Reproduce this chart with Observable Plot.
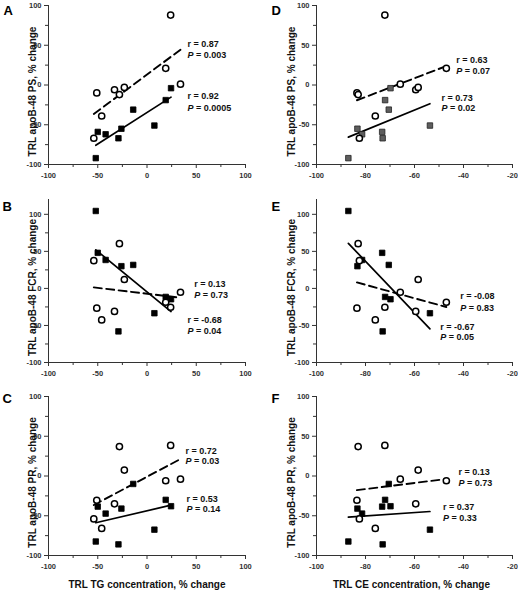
<!DOCTYPE html>
<html><head><meta charset="utf-8">
<script src="https://cdn.jsdelivr.net/npm/d3@7"></script>
<script src="https://cdn.jsdelivr.net/npm/@observablehq/plot@0.6"></script>
<style>
body{margin:0;background:#fff;}
#chart{position:relative;width:518px;height:591px;overflow:hidden;background:#fff;}
#chart svg{position:absolute;overflow:visible;}
</style></head><body><div id="chart"></div>
<script>
// ---- data (open circles = one group, filled squares = other group) ----
const tgCircle  = [24, -51, -33, -23, -28, 19, 34, -46, -54];
const ceCircle  = [-72.1, -83.5, -59.5, -58.5, -83, -47, -65.8, -76, -82.5];
const psCircle  = [88, -10, -6, -3, -12, 21, 1, -39, -67];
const fcrCircle = [-25.4, -26.7, -31, 12, 60.4, -18.7, -5.2, -42.5, 37.5];
const prCircle  = [38.5, -30.5, -35, 7.5, 37, -6, -4, -66, -54];

const tgSquare  = [-52, -50, -42, -29, -26, -14, 7.5, 19, 24.4];
const ceSquare  = [-87, -73.2, -81.4, -73, -83.3, -70.5, -53.7, -72, -69.8];
const psSquare  = [-92, -59, -62, -67, -55, -31, -51, -19, -4];
const fcrSquare = [104.5, 48, 38.4, -58, 30, 31.7, -33.5, -11.5, -14.6];
const prSquare  = [-82.4, -38.5, -47.3, -86, -41, -10, -67.5, -30, -38];

const panelLetters = [["A","D"],["B","E"],["C","F"]];
const yTitles = ["TRL apoB-48 PS, % change", "TRL apoB-48 FCR, % change", "TRL apoB-48 PR, % change"];
const xTitles = ["TRL TG concentration, % change", "TRL CE concentration, % change"];
const rOpen   = [["r = 0.87","r = 0.63"],["r = 0.13","r = -0.08"],["r = 0.72","r = 0.13"]];
const pOpen   = [["= 0.003","= 0.07"],["= 0.73","= 0.83"],["= 0.03","= 0.73"]];
const rFilled = [["r = 0.92","r = 0.73"],["r = -0.68","r = -0.67"],["r = 0.53","r = 0.37"]];
const pFilled = [["= 0.0005","= 0.02"],["= 0.04","= 0.05"],["= 0.14","= 0.33"]];

const yMajor = [-100, -50, 0, 50, 100];
const yMinor = [-75, -25, 25, 75];
const xMajorTG = [-100, -50, 0, 50, 100];
const xMinorTG = [-75, -25, 25, 75];
const xMajorCE = [-100, -80, -60, -40, -20];
const xMinorCE = [-90, -70, -50, -30];

// ---- layout ----
const FONT = "'Liberation Sans', Arial, Helvetica, sans-serif";
const cols = [
  {left: 0, width: 258, ml: 48, mr: 13, domain: [-100, 100], major: xMajorTG, minor: xMinorTG, titleDx: -16, xTitleDx: 0},
  {left: 258, width: 260, ml: 58, mr: 6, domain: [-100, -20], major: xMajorCE, minor: xMinorCE, titleDx: -25, xTitleDx: -3}
];
const rows = [
  {top: 0, height: 185, mt: 5, mb: 21, domain: [-100, 100], letterDy: 5.5},
  {top: 185, height: 195, mt: 14, mb: 18, domain: [-100, 120], letterDy: 7.5},
  {top: 380, height: 211, mt: 16, mb: 36, domain: [-100, 100], letterDy: 2}
];
// annotation anchor points (data units): [x, yR, yP] for dashed/open and solid/filled fits
const annot = [
  [{o: [41, 52, 38], f: [41, -14.5, -29.6]}, {o: [-43, 30.8, 17], f: [-49, -17, -29.6]}],
  [{o: [48, 5.4, -9.5], f: [41, -43.2, -58.1]}, {o: [-41.3, -10.4, -26], f: [-49.5, -52.3, -65.8]}],
  [{o: [39, 30.8, 18.2], f: [40, -28.7, -41.8]}, {o: [-42, 4.8, -9], f: [-48.4, -39.2, -52.6]}]
];

const yByRow = [[psCircle, psSquare], [fcrCircle, fcrSquare], [prCircle, prSquare]];
const xByCol = [[tgCircle, tgSquare], [ceCircle, ceSquare]];

const chart = document.getElementById("chart");
const axisColor = "#333";

function annotationMarks(a, rText, pText) {
  const t = {fontSize: 9, fontWeight: "bold", textAnchor: "start", lineAnchor: "middle", fill: "#111"};
  return [
    Plot.text([rText], {x: () => a[0], y: () => a[1], text: d => d, ...t}),
    Plot.text(["P"], {x: () => a[0], y: () => a[2], text: d => d, ...t, fontStyle: "italic"}),
    Plot.text([pText], {x: () => a[0], y: () => a[2], text: d => d, ...t, dx: 8.5})
  ];
}

for (let r = 0; r < 3; r++) {
  for (let c = 0; c < 2; c++) {
    const col = cols[c], row = rows[r];
    const open = xByCol[c][0].map((x, i) => ({x, y: yByRow[r][0][i]}));
    const filled = xByCol[c][1].map((x, i) => ({x, y: yByRow[r][1][i]}));
    const grayFill = (r === 0 && c === 1);
    const tickText = {fontSize: 7.5, fontWeight: "bold", color: axisColor, tickFormat: d => String(d)};
    const marks = [
      Plot.ruleX([col.domain[0]], {stroke: axisColor, strokeWidth: 1}),
      Plot.ruleY([-100], {stroke: axisColor, strokeWidth: 1}),
      Plot.axisY(yMajor, {label: null, tickSize: 4, tickPadding: 3, ...tickText}),
      Plot.axisY(yMinor, {label: null, tickSize: 3, color: axisColor, tickFormat: () => ""}),
      Plot.axisX(col.major, {label: null, tickSize: 4, tickPadding: 4, ...tickText}),
      Plot.axisX(col.minor, {label: null, tickSize: 3, color: axisColor, tickFormat: () => ""}),
      Plot.linearRegressionY(open, {x: "x", y: "y", ci: 0, stroke: "#000", strokeWidth: 1.9, strokeDasharray: "8,4.5"}),
      Plot.linearRegressionY(filled, {x: "x", y: "y", ci: 0, stroke: "#000", strokeWidth: 1.7}),
      Plot.dot(filled, {x: "x", y: "y", r: 3.1, symbol: "square", fill: grayFill ? "#5e5e5e" : "#000", stroke: grayFill ? "#222" : "#000", strokeWidth: 0.8}),
      Plot.dot(open, {x: "x", y: "y", r: 3.1, fill: "#fff", stroke: "#000", strokeWidth: 1.5}),
      ...annotationMarks(annot[r][c].o, rOpen[r][c], pOpen[r][c]),
      ...annotationMarks(annot[r][c].f, rFilled[r][c], pFilled[r][c]),
      Plot.text([yTitles[r]], {frameAnchor: "left", text: d => d, rotate: -90, textAnchor: "middle", lineAnchor: "middle", dx: col.titleDx, dy: 6.5, fontSize: 10, fontWeight: "bold", fill: "#111"}),
      Plot.text([panelLetters[r][c]], {frameAnchor: "top-left", text: d => d, dx: c === 0 ? (r === 0 ? -45 : -46) : -45, dy: row.letterDy, textAnchor: "start", lineAnchor: "middle", fontSize: 13, fontWeight: "bold", fill: "#000"})
    ];
    if (r === 2) {
      marks.push(Plot.text([xTitles[c]], {frameAnchor: "bottom", text: d => d, textAnchor: "middle", dy: 29, dx: col.xTitleDx, lineAnchor: "middle", fontSize: 10, fontWeight: "bold", fill: "#111"}));
    }
    const svg = Plot.plot({
      width: col.width,
      height: row.height,
      marginLeft: col.ml, marginRight: col.mr, marginTop: row.mt, marginBottom: row.mb,
      x: {domain: col.domain, axis: null},
      y: {domain: row.domain, axis: null},
      style: {fontFamily: FONT, background: "transparent", overflow: "visible"},
      marks
    });
    svg.style.position = "absolute";
    svg.style.left = col.left + "px";
    svg.style.top = row.top + "px";
    chart.appendChild(svg);
  }
}
</script>
</body></html>
